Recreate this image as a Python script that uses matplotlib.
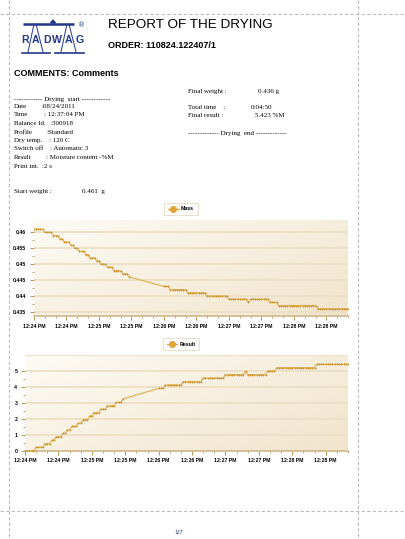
import numpy as np
import matplotlib
matplotlib.use('agg')
import matplotlib.pyplot as plt
from matplotlib.colors import LinearSegmentedColormap
from matplotlib.ticker import MultipleLocator, FormatStrFormatter, FixedLocator

# drying record, one sample every print interval
start_weight = 0.461
print_interval = 2
time_blocks = [(0, 88), (120, 290)]
mass_levels = [0.461, 0.460, 0.459, 0.458, 0.457, 0.456, 0.455, 0.454, 0.453, 0.452,
               0.451, 0.450, 0.449, 0.448, 0.447, 0.446,
               0.443, 0.442, 0.441, 0.440, 0.439, 0.438, 0.439, 0.438, 0.437, 0.436]
level_counts = [5, 4, 3, 2, 3, 2, 2, 3, 2, 3,
                2, 3, 3, 4, 3, 1,
                3, 8, 9, 10, 9, 1, 9, 4, 18, 15]

time_ticks = [0, 30, 60, 90, 120, 150, 180, 210, 240, 270]
time_labels = ["12:24 PM", "12:24 PM", "12:25 PM", "12:25 PM", "12:26 PM",
               "12:26 PM", "12:27 PM", "12:27 PM", "12:28 PM", "12:28 PM"]
mass_ticks = [0.435, 0.44, 0.445, 0.45, 0.455, 0.46]
result_ticks = [0, 1, 2, 3, 4, 5]

info_left = [("Date", ":08/24/2011", 41.3, 106.7),
             ("Time", ": 12:37:04 PM", 44, 114.7),
             ("Balance Id.", ":300918", 50, 123.3),
             ("Profile", ":Standard", 46.5, 132.3),
             ("Dry temp.", ": 120 C", 49, 140.3),
             ("Switch off", ": Automatic 3", 50.3, 149),
             ("Result", ": Moisture content -%M", 45.7, 157.3),
             ("Print int.", ":2 s", 42.3, 166)]

times = np.concatenate([np.arange(a, b + 1, print_interval) for a, b in time_blocks])
mass = np.repeat(mass_levels, level_counts)
result = (start_weight - mass) / start_weight * 100

W, H = 406, 539
fig = plt.figure(figsize=(W / 100, H / 100), dpi=100)
fig.patch.set_facecolor('white')

# page layer in pixel coordinates
page = fig.add_axes([0, 0, 1, 1])
page.set_xlim(0, W)
page.set_ylim(H, 0)
page.axis('off')

dash = dict(color='#bcbcbc', lw=0.8, ls=(0, (3, 2)))
page.plot([9, 9], [0, H], **dash)
page.plot([358, 358], [0, H], **dash)
page.plot([0, W], [13.5, 13.5], **dash)
page.plot([0, W], [511, 511], **dash)

# logo
blue = '#23388c'
page.plot([23, 74], [24, 24], color=blue, lw=1.8, solid_capstyle='butt')
page.fill([50.5, 55.5, 53], [23, 23, 20], color=blue)
for xs, ys in [([34, 28], [24, 52]), ([36, 43], [24, 52]),
               ([67, 61], [24, 52]), ([69, 76], [24, 52])]:
    page.plot(xs, ys, color=blue, lw=0.7)
page.plot([22, 50], [52.5, 52.5], color=blue, lw=1.2)
page.plot([55, 84], [52.5, 52.5], color=blue, lw=1.2)
for ch, x in zip("RADWAG", [25.3, 35.3, 46.7, 56.9, 68.3, 80]):
    page.text(x, 40, ch, color=blue, fontsize=7.6, fontweight='bold',
              family='Liberation Sans', ha='center', va='center')
page.text(81.5, 25, "\u00ae", color=blue, fontsize=5, ha='center', va='center')

page.text(108, 25.5, "REPORT OF THE DRYING", fontsize=9.7, family='Liberation Sans',
          ha='left', va='center')
page.text(108, 45, "ORDER: 110824.122407/1", fontsize=6.5, fontweight='bold',
          family='Liberation Sans', ha='left', va='center')
page.text(14, 73, "COMMENTS: Comments", fontsize=6.5, fontweight='bold',
          family='Liberation Sans', ha='left', va='center')

serif = dict(fontsize=5, family='Liberation Serif', va='center', ha='left')
page.text(14, 100, "------------ Drying  start ------------", **serif)
for label, value, cx, y in info_left:
    page.text(14, y, label, **serif)
    page.text(cx, y, value, **serif)
page.text(14, 191, "Start weight :", **serif)
page.text(82, 191, "0.461  g", **serif)

page.text(188, 91, "Final weight :", **serif)
page.text(258, 91, "0.436 g", **serif)
page.text(188, 107.7, "Total time    :", **serif)
page.text(250.5, 107.7, "0:04:50", **serif)
page.text(188, 115.3, "Final result :", **serif)
page.text(255, 115.3, "5.423 %M", **serif)
page.text(188, 133, "------------- Drying  end -------------", **serif)

page.text(178.5, 532, "1/7", fontsize=4.5, color='#2c3e6e', ha='center', va='center',
          family='Liberation Sans')

bg = LinearSegmentedColormap.from_list('bg', ['#fdfbf5', '#f1e4cb'])
gx, gy = np.meshgrid(np.linspace(0, 1, 200), np.linspace(0, 1, 100))
grad = 0.6 * gx + 0.4 * gy
line_col = '#dfb560'
mark_col = '#c8922c'
tick_font = dict(family='Liberation Sans', size=3.7, weight='bold')


def chart(rect, y, ylim, yticks, yfmt, name, legend_xy, top_line=None):
    ax = fig.add_axes([rect[0] / W, 1 - rect[3] / H, (rect[2] - rect[0]) / W,
                       (rect[3] - rect[1]) / H])
    ax.imshow(grad, extent=[0, 1, 0, 1], transform=ax.transAxes, aspect='auto',
              cmap=bg, zorder=0, origin='upper')
    ax.set_facecolor('none')
    for v in yticks:
        ax.axhline(v, color='#ebdfc6', lw=1.3, zorder=1)
    if top_line is not None:
        ax.axhline(top_line, color='#ebdfc6', lw=1.3, zorder=1)
    ax.plot(times, y, color=line_col, lw=0.9, marker='+', ms=1.6, mew=0.6,
            mec=mark_col, zorder=3, label=name)
    ax.set_xlim(0, 290)
    ax.set_ylim(*ylim)
    ax.xaxis.set_major_locator(FixedLocator(time_ticks))
    ax.set_xticklabels(time_labels, fontdict=tick_font)
    ax.xaxis.set_minor_locator(MultipleLocator(10))
    ax.yaxis.set_major_locator(FixedLocator(yticks))
    ax.yaxis.set_major_formatter(FormatStrFormatter(yfmt))
    for lab in ax.get_yticklabels():
        lab.set_fontproperties(tick_font)
    ax.yaxis.set_minor_locator(FixedLocator(
        np.array(yticks[:-1]) + (yticks[1] - yticks[0]) / 2))
    ax.tick_params(which='major', length=3, width=0.7, color='#b8954a', pad=2.5)
    ax.tick_params(which='minor', length=1.5, width=0.6, color='#b8954a')
    for s in ['top', 'right', 'left']:
        ax.spines[s].set_visible(False)
    ax.spines['bottom'].set_color('#cdb88e')
    ax.spines['bottom'].set_linewidth(1.2)
    leg = ax.legend(loc='center', bbox_to_anchor=(legend_xy[0] / W, 1 - legend_xy[1] / H),
                    bbox_transform=fig.transFigure, frameon=True, fancybox=False,
                    prop=dict(family='Liberation Sans', size=3.8, weight='bold'),
                    handlelength=2.0, handletextpad=0.4, borderpad=0.7,
                    markerscale=1.0)
    leg.get_frame().set_edgecolor('#e4d9c3')
    leg.get_frame().set_linewidth(0.8)
    h = leg.legend_handles[0]
    h.set_marker('o')
    h.set_markersize(4.5)
    h.set_markerfacecolor('#dea63c')
    h.set_markeredgecolor('#dea63c')
    h.set_color('#dea63c')
    return ax


chart((34, 220, 348, 316), mass, (0.4337, 0.4639), mass_ticks, '%g', 'Mass', (181, 209))
chart((25, 355, 348, 450.7), result, (0, 6), result_ticks, '%d', 'Result', (181, 344),
      top_line=6)

fig.savefig('out.png', dpi=100)
